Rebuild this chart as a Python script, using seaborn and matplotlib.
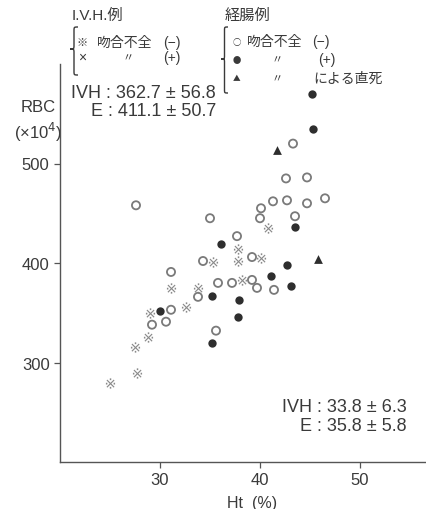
import matplotlib
matplotlib.use("Agg")
import pandas as pd
import matplotlib.pyplot as plt
from matplotlib.path import Path
from matplotlib.patches import PathPatch
import seaborn as sns

# ---------------------------------------------------------------
#   Ht vs RBC : I.V.H. cases vs enteral (経腸) cases
# ---------------------------------------------------------------

# I.V.H. cases, 吻合不全(-)
ivh_ht = [25.0, 27.7, 27.5, 28.8, 29.0, 31.1, 32.6, 33.8, 35.3, 37.8, 37.8, 38.2, 40.1, 40.8]
ivh_rbc = [279, 289, 316, 326, 350, 375, 356, 375, 401, 414, 402, 383, 405, 435]

# enteral cases, 吻合不全(-)
ent_neg_ht = [27.6, 35.0, 34.3, 31.1, 33.8, 31.1, 29.2, 30.6, 35.6, 43.3, 42.6, 44.7, 41.3,
              42.7, 44.7, 46.5, 40.1, 40.0, 43.5, 37.7, 39.2, 35.8, 37.2, 39.2, 39.7, 41.4]
ent_neg_rbc = [458, 445, 402, 391, 366, 353, 338, 341, 332, 520, 485, 486, 462,
               463, 460, 465, 455, 445, 447, 427, 406, 380, 380, 383, 375, 373]

# enteral cases, 吻合不全(+)
ent_pos_ht = [45.2, 45.3, 43.5, 36.1, 42.7, 41.1, 43.1, 35.2, 37.9, 37.8, 35.2, 30.0]
ent_pos_rbc = [570, 535, 436, 419, 398, 387, 377, 367, 363, 346, 320, 352]

# enteral cases, death due to leakage
ent_death_ht = [41.7, 45.8]
ent_death_rbc = [514, 404]

x_ticks = [30, 40, 50]
y_ticks = [300, 400, 500]

W, H = 426, 510
INK = "#3a3a3a"

sns.set_style("ticks")
plt.rcParams["font.family"] = ["Liberation Sans", "Noto Sans CJK JP", "DejaVu Sans"]
plt.rcParams["text.color"] = INK
plt.rcParams["axes.edgecolor"] = "#555555"
plt.rcParams["xtick.color"] = "#555555"
plt.rcParams["ytick.color"] = "#555555"


def fx(px):
    return px / W


def fy(py):
    return 1 - py / H


fig = plt.figure(figsize=(W / 100, H / 100), dpi=100)
ax = fig.add_axes([fx(60), fy(463), fx(426) - fx(60), fy(65) - fy(463)])

df_ivh = pd.DataFrame({"Ht": ivh_ht, "RBC": ivh_rbc})
df_neg = pd.DataFrame({"Ht": ent_neg_ht, "RBC": ent_neg_rbc})
df_pos = pd.DataFrame({"Ht": ent_pos_ht, "RBC": ent_pos_rbc})
df_death = pd.DataFrame({"Ht": ent_death_ht, "RBC": ent_death_rbc})

sns.scatterplot(data=df_ivh, x="Ht", y="RBC", marker="$※$", s=55,
                color="#8a8a8a", linewidth=0, ax=ax)
sns.scatterplot(data=df_neg, x="Ht", y="RBC", marker="o", s=34,
                facecolor="none", edgecolor="#7a7a7a", linewidth=1.3, ax=ax)
sns.scatterplot(data=df_pos, x="Ht", y="RBC", marker="o", s=36,
                color="#2e2e2e", linewidth=0, ax=ax)
sns.scatterplot(data=df_death, x="Ht", y="RBC", marker="^", s=40,
                color="#2e2e2e", linewidth=0, ax=ax)

ax.set_xlim(20, 56.6)
ax.set_ylim(200, 600)
ax.set_xticks(x_ticks)
ax.set_yticks(y_ticks)
ax.tick_params(labelsize=12, length=4, width=0.9, colors="#555555", labelcolor=INK)
sns.despine(ax=ax)
for s in ["left", "bottom"]:
    ax.spines[s].set_linewidth(1.0)

ax.set_xlabel("Ht  (%)", fontsize=11.5, color=INK)
ax.xaxis.set_label_coords((252 - 60) / 366, (463 - 496) / 398)
ax.set_ylabel("RBC\n(×10$^4$)", fontsize=12, color=INK, rotation=0,
              ha="center", va="center", linespacing=1.3)
ax.yaxis.set_label_coords((38 - 60) / 366, (463 - 122) / 398)


def brace(x, y0, y1, ym, w):
    h = w / 2
    pts = [(x + w, y0), (x + h, y0), (x + h, y0), (x + h, y0 + h),
           (x + h, ym - h),
           (x + h, ym), (x + h, ym), (x, ym),
           (x + h, ym), (x + h, ym), (x + h, ym + h),
           (x + h, y1 - h),
           (x + h, y1), (x + h, y1), (x + w, y1)]
    codes = [Path.MOVETO] + [Path.CURVE4] * 3 + [Path.LINETO] + [Path.CURVE4] * 6 \
        + [Path.LINETO] + [Path.CURVE4] * 3
    verts = [(fx(a), fy(b)) for a, b in pts]
    fig.add_artist(PathPatch(Path(verts, codes), transform=fig.transFigure,
                             fill=False, lw=1.0, ec=INK))


def label(px, py, s, size=10, ha="left", family=None):
    fig.text(fx(px), fy(py), s, fontsize=size, ha=ha, va="center", color=INK,
             family=family)


SYM = ["Noto Sans CJK JP", "DejaVu Sans"]

# I.V.H. legend
label(72, 16, "I.V.H.例", 11)
brace(70, 28, 76, 50, 8)
label(82, 43, "※", 8, "center", SYM)
label(97, 43, "吻合不全", 10)
label(163, 43, "(−)", 10)
label(82, 58, "×", 10, "center")
label(128, 58, "〃", 8, "center")
label(163, 58, "(+)", 10)

# enteral legend
label(225, 16, "経腸例", 11)
brace(221, 28, 94, 60, 7)
label(237, 42, "○", 6, "center", SYM)
label(247, 42, "吻合不全", 10)
label(312, 42, "(−)", 10)
label(237, 60, "●", 6, "center", SYM)
label(277, 60, "〃", 8, "center")
label(318, 60, "(+)", 10)
label(237, 79, "▲", 5.5, "center", SYM)
label(277, 79, "〃", 8, "center")
label(313, 79, "による直死", 10)

# mean ± SD
label(216, 93, "IVH : 362.7 ± 56.8", 13, "right")
label(216, 111, "E : 411.1 ± 50.7", 13, "right")
label(407, 407, "IVH : 33.8 ± 6.3", 13, "right")
label(407, 427, "E : 35.8 ± 5.8", 13, "right")

fig.savefig("out.png", dpi=100)
